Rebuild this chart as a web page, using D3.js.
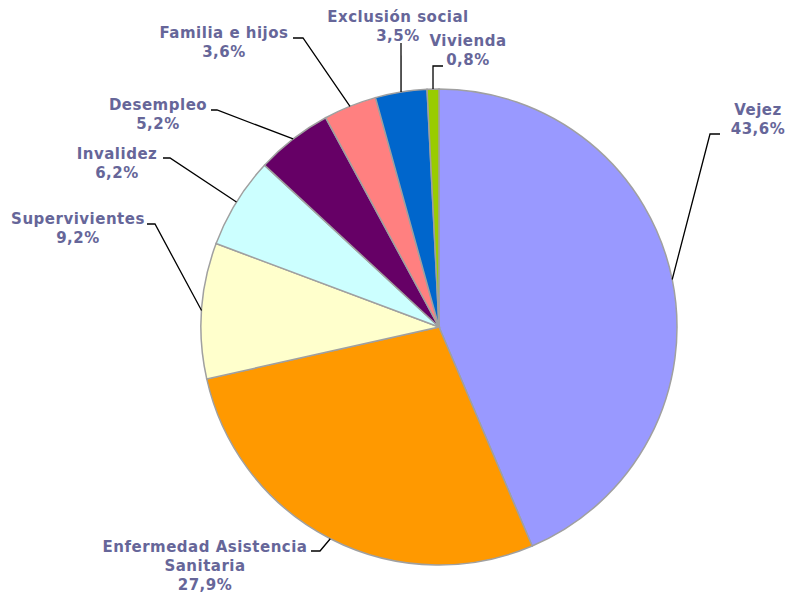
<!DOCTYPE html>
<html>
<head>
<meta charset="utf-8">
<script src="https://cdn.jsdelivr.net/npm/d3@7"></script>
<style>
    html, body { margin: 0; padding: 0; background: #ffffff; }
    svg { display: block; }
</style>
</head>
<body>
<div id="pie-container"></div>
<script>
// Spending by function, percentage of total
const categories = [
    "Vejez",
    "Enfermedad Asistencia\nSanitaria",
    "Supervivientes",
    "Invalidez",
    "Desempleo",
    "Familia e hijos",
    "Exclusión social",
    "Vivienda"
];
const shares = [43.6, 27.9, 9.2, 6.2, 5.2, 3.6, 3.5, 0.8];
const sliceColors = ["#9999ff", "#ff9900", "#ffffcc", "#ccffff", "#660066", "#ff8080", "#0066cc", "#99cc00"];

// label placement (text centre x, first baseline y) and leader bends
const labelPos = [
    { x: 758, y: 115, bends: [[710, 134], [720, 134]] },
    { x: 205, y: 552, bends: [[320, 551], [311, 551]] },
    { x: 78,  y: 224, bends: [[155, 224], [147, 224]] },
    { x: 117, y: 159, bends: [[170, 158], [163, 158]] },
    { x: 158, y: 110, bends: [[217, 110], [211, 110]] },
    { x: 224, y: 38,  bends: [[303, 38], [293, 38]] },
    { x: 398, y: 22,  bends: [[401, 43]] },
    { x: 468, y: 46,  bends: [[433, 66], [443, 66]] }
];

function buildPie() {
    const width = 789;
    const height = 593;
    const cx = 439;
    const cy = 327;
    const radius = 238;
    const lineHeight = 19;

    const data = categories.map((name, i) => ({
        name: name,
        value: shares[i],
        color: sliceColors[i],
        layout: labelPos[i]
    }));

    const svg = d3.select("#pie-container")
        .append("svg")
        .attr("width", width)
        .attr("height", height);

    const chart = svg.append("g")
        .attr("transform", `translate(${cx},${cy})`);

    const pie = d3.pie()
        .sort(null)
        .value(d => d.value);

    const arcs = pie(data);

    const arc = d3.arc()
        .innerRadius(0)
        .outerRadius(radius);

    const edgeArc = d3.arc()
        .innerRadius(radius)
        .outerRadius(radius);

    chart.selectAll("path.slice")
        .data(arcs)
        .join("path")
        .attr("class", "slice")
        .attr("d", arc)
        .attr("fill", d => d.data.color)
        .attr("stroke", "#a0a0a0")
        .attr("stroke-width", 1.5);

    const formatPct = v => v.toFixed(1).replace(".", ",") + "%";

    // leader lines, from the slice edge to the label
    const line = d3.line();

    svg.selectAll("path.leader")
        .data(arcs)
        .join("path")
        .attr("class", "leader")
        .attr("d", d => {
            const [ex, ey] = edgeArc.centroid(d);
            const pts = [[cx + ex, cy + ey]].concat(d.data.layout.bends);
            return line(pts);
        })
        .attr("fill", "none")
        .attr("stroke", "#000")
        .attr("stroke-width", 1.3);

    const labels = svg.selectAll("text.label")
        .data(arcs)
        .join("text")
        .attr("class", "label")
        .attr("text-anchor", "middle")
        .style("font-family", "'DejaVu Sans', Verdana, sans-serif")
        .style("font-size", "15px")
        .style("font-weight", "bold")
        .style("letter-spacing", "0.5px")
        .style("fill", "#666699");

    labels.each(function(d) {
        const lines = d.data.name.split("\n").concat([formatPct(d.data.value)]);
        const t = d3.select(this);
        lines.forEach((txt, i) => {
            t.append("tspan")
                .attr("x", d.data.layout.x)
                .attr("y", d.data.layout.y + i * lineHeight)
                .text(txt);
        });
    });
}

buildPie();
</script>
</body>
</html>
